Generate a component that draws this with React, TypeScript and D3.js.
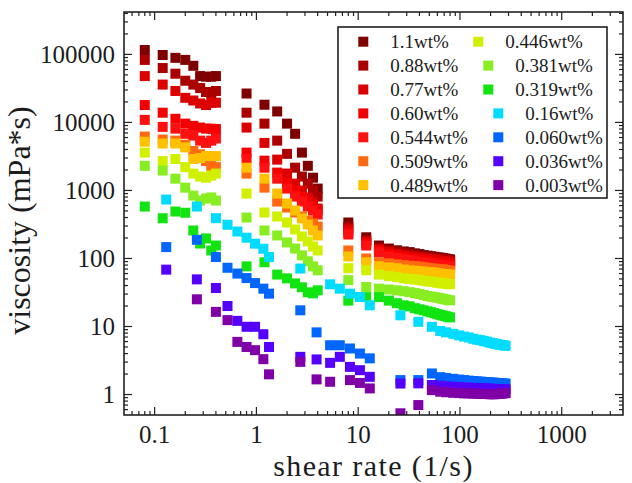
import * as d3 from 'd3'

const WIDTH = 632
const HEIGHT = 483
const PLOT = { left: 124, right: 623, top: 12, bottom: 415 }
const FONT = '"Liberation Serif", "Times New Roman", Times, serif'
const MARK = 10

// Shear-rate grids (1/s). Thick samples: three spindle ranges; dilute samples: their own sweep.
const RATE_LOW = [0.08, 0.12, 0.16, 0.2, 0.24, 0.28, 0.32, 0.36, 0.4]
const RATE_MID = [0.8, 1.2, 1.6, 2.0, 2.4, 2.8, 3.2, 3.6, 4.0]
const RATE_HIGH = [8, 12, 16, 20, 24, 28, 32, 36, 40, 44, 48, 52, 56, 60, 64, 68, 72, 76, 80]
const RATE_THICK = [...RATE_LOW, ...RATE_MID, ...RATE_HIGH]
const RATE_DILUTE = [
  0.13, 0.26, 0.4, 0.52, 0.65, 0.8, 0.97, 1.17, 1.33,
  2.7, 3.9, 5.3, 6.6, 8.3, 10.4, 13,
  26, 39, 53,
  64, 73, 86, 98, 110, 122, 135, 147, 159, 171, 184, 196, 208, 220, 233, 245, 257, 269, 281,
]

// viscosity (mPa*s)
const visc110 = [
  116000, 98000, 89000, 83000, 68000, 48000, 47000, 47000, 48000,
  26600, 18200, 14500, 9600, 6800, 3600, 2300, 1540, 1065,
  338, 205, 155, 140, 132, 127, 124, 119, 116, 112, 110, 108, 106, 104, 103, 101, 100, 98, 97,
]
const visc088 = [
  83000, 63000, 52000, 41000, 36000, 32000, 28000, 27000, 29000,
  13900, 9600, 5400, 3450, 2160, 1600, 1260, 995, 813,
  295, 184, 141, 131, 124, 119, 115, 112, 108, 106, 104, 102, 100, 99, 97, 96, 95, 94, 93,
]
const visc077 = [
  48000, 36000, 29000, 23000, 21000, 19000, 18000, 19500, 19500,
  8400, 5000, 2840, 1770, 1260, 995, 786, 664, 542,
  267, 178, 136, 124, 116, 111, 107, 104, 102, 100, 98, 97, 95, 94, 93, 91, 90, 90, 88,
]
const visc060 = [
  18000, 13900, 11300, 9600, 8900, 8400, 8100, 8100, 8000,
  3600, 2740, 1830, 1300, 995, 813, 687, 580, 507,
  241, 166, 131, 116, 108, 104, 100, 97, 95, 93, 91, 90, 88, 87, 86, 85, 84, 83, 82,
]
const visc0544 = [
  10900, 8600, 8100, 6800, 6400, 5400, 5000, 5400, 5800,
  2930, 2160, 1490, 1065, 813, 687, 580, 507, 443,
  225, 155, 123, 107, 101, 97, 94, 91, 89, 87, 85, 84, 82, 81, 80, 79, 78, 77, 76,
]
const visc0509 = [
  6200, 5600, 5400, 4700, 3800, 3400, 2700, 2300, 2200,
  1770, 1100, 687, 561, 474, 414, 361, 327, 295,
  131, 100, 88, 85, 82, 80, 78, 77, 76, 74, 73, 72, 71, 70, 69, 69, 68, 67, 66,
]
const visc0489 = [
  5200, 4900, 4900, 4300, 2900, 3000, 3200, 3200, 3200,
  2160, 1490, 900, 642, 507, 387, 316, 258, 218,
  107, 88, 77, 74, 72, 69, 67, 66, 65, 64, 63, 62, 62, 61, 60, 59, 59, 58, 58,
]
const visc0446 = [
  3600, 2700, 2900, 2200, 1770, 1600, 1540, 1650, 1770,
  900, 474, 414, 338, 267, 211, 178, 150, 131,
  72, 67, 58, 55, 53, 51, 50, 49, 48, 47, 46, 46, 45, 44, 44, 43, 43, 42, 42,
]
const visc0381 = [
  2300, 1960, 1490, 1100, 840, 710, 760, 790, 710,
  400, 258, 218, 172, 140, 111, 91, 76.5, 67,
  48, 38, 36, 35, 34, 33, 32, 31, 30, 29, 28, 27.5, 27, 26.5, 26, 25.5, 25, 24.6, 24.2,
]
const visc0319 = [
  580, 390, 490, 470, 258, 166, 197, 131, 155,
  76.5, 88, 58, 51, 43, 37.7, 31.8, 30.7, 34,
  24, 27, 27, 24, 22, 20.5, 19.8, 18.6, 17.9, 17.3, 16.7, 16.2, 15.7, 15.2, 14.8, 14.5, 14.2, 13.9, 13.6,
]
const visc016 = [
  735, 580, 391, 313, 249, 202, 165, 139, 105,
  71, null, 41.7, 36, 30.4, 27.1, 20.5,
  14.6, 11.7, 9.9,
  8.6, 8.2, 7.8, 7.4, 7.1, 6.9, 6.6, 6.4, 6.3, 6.1, 6.0, 5.8, 5.7, 5.6, 5.5, 5.4, 5.35, 5.3, 5.2,
]
const visc0060 = [
  147, 188, 105, 73, 60, 51.5, 43.5, 36, 30.4,
  17.3, 8.2, 5.3, 5.3, 4.75, 4.0, 3.4,
  1.63, 1.63, 2.04,
  1.8, 1.75, 1.7, 1.66, 1.63, 1.6, 1.58, 1.56, 1.55, 1.53, 1.52, 1.51, 1.5, 1.49, 1.48, 1.47, 1.46, 1.45, 1.45,
]
const visc0036 = [
  68.5, 49.3, 36.8, 20, 12.1, 9.9, 9.9, 7.7, 5.0,
  3.58, 3.28, 2.92, 3.58, 2.55, 2.28, 1.82,
  1.45, 1.46, 1.38,
  1.35, 1.32, 1.3, 1.28, 1.27, 1.26, 1.25, 1.24, 1.24, 1.23, 1.22, 1.22, 1.21, 1.21, 1.2, 1.2, 1.2, 1.19, 1.19,
]
const visc0003 = [
  null, 25.1, 16.4, 12.4, 5.94, 5.0, 4.49, 3.31, 1.98,
  3.02, 1.67, 1.54, null, 1.63, 1.48, 1.23,
  0.53, 0.7, 1.16,
  1.1, 1.08, 1.06, 1.05, 1.04, 1.04, 1.03, 1.03, 1.02, 1.02, 1.02, 1.01, 1.01, 1.01, 1.02, 1.02, 1.03, 1.04, 1.05,
]

const LABELS = [
  '1.1wt%', '0.88wt%', '0.77wt%', '0.60wt%', '0.544wt%', '0.509wt%', '0.489wt%',
  '0.446wt%', '0.381wt%', '0.319wt%', '0.16wt%', '0.060wt%', '0.036wt%', '0.003wt%',
]
const COLORS = [
  '#7f0000', '#aa0000', '#dd0000', '#f40000', '#ff1010', '#ff6a10', '#ffc000',
  '#d0f000', '#88ee22', '#11e411', '#00dcff', '#0066ff', '#5500ff', '#8000a8',
]
const VALUES = [
  visc110, visc088, visc077, visc060, visc0544, visc0509, visc0489,
  visc0446, visc0381, visc0319, visc016, visc0060, visc0036, visc0003,
]

// legend layout: second column entries sit a little further right going down
const LEGEND_COL2_SHIFT = [0, 10, 10, 20, 20, 20, 20]

type Series = { label: string; color: string; points: [number, number][] }

const series: Series[] = LABELS.map((label, i) => {
  const rates = i < 10 ? RATE_THICK : RATE_DILUTE
  const points: [number, number][] = []
  VALUES[i].forEach((v, j) => {
    if (v != null) points.push([rates[j], v])
  })
  return { label, color: COLORS[i], points }
})

const isDecade = (v: number) => Math.abs(Math.log10(v) - Math.round(Math.log10(v))) < 1e-9

export default function App() {
  const x = d3.scaleLog().domain([0.05, 4000]).range([PLOT.left, PLOT.right])
  const y = d3.scaleLog().domain([0.5, 4.2e5]).range([PLOT.bottom, PLOT.top])

  const xTicks = x.ticks().filter((t) => t > 0.05 && t < 4000)
  const yTicks = y.ticks().filter((t) => t > 0.5 && t < 4.2e5)
  const fmt = (v: number) => String(+v.toPrecision(6))

  const axisColor = '#222'
  const textColor = '#1c1c1c'

  return (
    <div style={{ position: 'absolute', left: 0, top: 0 }}>
      <svg width={WIDTH} height={HEIGHT} style={{ display: 'block', background: '#fff' }} fontFamily={FONT}>
        <defs>
          <clipPath id="plot-area">
            <rect x={PLOT.left} y={PLOT.top} width={PLOT.right - PLOT.left} height={PLOT.bottom - PLOT.top} />
          </clipPath>
        </defs>

        <g clipPath="url(#plot-area)">
          {series.map((s) => (
            <g key={s.label} fill={s.color}>
              {s.points.map(([r, v], k) => (
                <rect key={k} x={x(r) - MARK / 2} y={y(v) - MARK / 2} width={MARK} height={MARK} />
              ))}
            </g>
          ))}
        </g>

        {/* ticks on all four sides, pointing inward */}
        <g stroke={axisColor} strokeWidth={1.2}>
          {xTicks.map((t) => {
            const len = isDecade(t) ? 8 : 4
            const px = x(t)
            return (
              <g key={'xt' + t}>
                <line x1={px} x2={px} y1={PLOT.bottom} y2={PLOT.bottom - len} />
                <line x1={px} x2={px} y1={PLOT.top} y2={PLOT.top + len} />
              </g>
            )
          })}
          {yTicks.map((t) => {
            const len = isDecade(t) ? 8 : 4
            const py = y(t)
            return (
              <g key={'yt' + t}>
                <line x1={PLOT.left} x2={PLOT.left + len} y1={py} y2={py} />
                <line x1={PLOT.right} x2={PLOT.right - len} y1={py} y2={py} />
              </g>
            )
          })}
        </g>

        <rect
          x={PLOT.left}
          y={PLOT.top}
          width={PLOT.right - PLOT.left}
          height={PLOT.bottom - PLOT.top}
          fill="none"
          stroke={axisColor}
          strokeWidth={1.6}
        />

        {/* tick labels */}
        <g fontSize={25} fill={textColor}>
          {xTicks.filter(isDecade).map((t) => (
            <text key={'xl' + t} x={x(t)} y={443} textAnchor="middle">
              {fmt(t)}
            </text>
          ))}
          {yTicks.filter(isDecade).map((t) => (
            <text key={'yl' + t} x={115} y={y(t) + 8.5} textAnchor="end">
              {fmt(t)}
            </text>
          ))}
        </g>

        <text
          x={(PLOT.left + PLOT.right) / 2}
          y={476}
          textAnchor="middle"
          fontSize={30}
          letterSpacing={1.4}
          fill={textColor}
        >
          shear rate (1/s)
        </text>
        <text
          transform={`translate(30, ${(PLOT.top + PLOT.bottom) / 2 + 7}) rotate(-90)`}
          textAnchor="middle"
          fontSize={32}
          fill={textColor}
        >
          viscosity (mPa*s)
        </text>

        {/* legend */}
        <g>
          <rect x={338} y={27} width={269} height={171} fill="#fff" stroke="#111" strokeWidth={1.5} />
          {series.map((s, i) => {
            const row = i % 7
            const col = Math.floor(i / 7)
            const cy = 41.7 + row * 23.9
            const mx = col === 0 ? 363.3 : 478.3 + LEGEND_COL2_SHIFT[row]
            return (
              <g key={'lg' + s.label}>
                <rect x={mx - 5} y={cy - 5} width={MARK} height={MARK} fill={s.color} />
                <text x={mx + 27} y={cy + 6.5} fontSize={19} fill={textColor}>
                  {s.label}
                </text>
              </g>
            )
          })}
        </g>
      </svg>
    </div>
  )
}
